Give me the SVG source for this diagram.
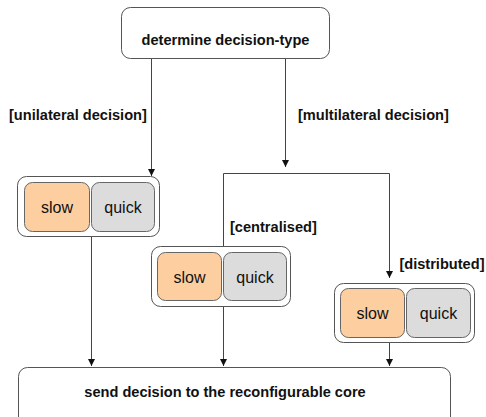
<svg xmlns="http://www.w3.org/2000/svg" width="486" height="417" viewBox="0 0 486 417">
<defs>
<marker id="arr" viewBox="0 0 8 8" refX="8" refY="4" markerWidth="7" markerHeight="7" markerUnits="userSpaceOnUse" orient="auto">
<path d="M0,0 L8,4 L0,8 z" fill="#111"/>
</marker>
<style>
.box{fill:#fff;stroke:#555;stroke-width:1}
.grp{fill:#fff;stroke:#555;stroke-width:1}
.slow{fill:#fdcfa0;stroke:#666;stroke-width:1}
.quick{fill:#dcdcdc;stroke:#666;stroke-width:1}
.t{font-family:"Liberation Sans",Arial,sans-serif;font-size:14.6px;font-weight:bold;fill:#111}
.s{font-family:"Liberation Sans",Arial,sans-serif;font-size:16px;fill:#111;text-anchor:middle}
.line{fill:none;stroke:#444;stroke-width:1}
</style>
</defs>
<rect width="486" height="417" fill="#fff"/>
<g id="connectors">
<line class="line" x1="151.5" y1="58" x2="151.5" y2="176" marker-end="url(#arr)"/>
<line class="line" x1="285.5" y1="58" x2="285.5" y2="167" marker-end="url(#arr)"/>
<polyline class="line" points="223.5,246 223.5,173.5 389.5,173.5 389.5,278" marker-end="url(#arr)"/>
<line class="line" x1="91.5" y1="237" x2="91.5" y2="366" marker-end="url(#arr)"/>
<line class="line" x1="223.5" y1="306" x2="223.5" y2="366" marker-end="url(#arr)"/>
<line class="line" x1="389.5" y1="343" x2="389.5" y2="366" marker-end="url(#arr)"/>
</g>
<g id="determine">
<rect class="box" x="121.5" y="7.5" width="208" height="51" rx="9"/>
<text class="t" x="225.5" y="45" text-anchor="middle">determine decision-type</text>
</g>
<g id="label-unilateral"><text class="t" x="9" y="120">[unilateral decision]</text></g>
<g id="label-multilateral"><text class="t" x="298" y="120">[multilateral decision]</text></g>
<g id="label-centralised"><text class="t" x="230" y="232">[centralised]</text></g>
<g id="label-distributed"><text class="t" x="484.5" y="269" text-anchor="end">[distributed]</text></g>
<g id="unilateral">
<rect class="grp" x="17.5" y="176.5" width="142" height="60" rx="9"/>
<rect class="slow" x="24.5" y="182.5" width="65" height="49" rx="8"/>
<rect class="quick" x="91.5" y="182.5" width="63" height="49" rx="8"/>
<text class="s" x="57" y="213">slow</text>
<text class="s" x="123" y="213">quick</text>
</g>
<g id="centralised">
<rect class="grp" x="151.5" y="246.5" width="139" height="60" rx="9"/>
<rect class="slow" x="157.5" y="252.5" width="64" height="48" rx="8"/>
<rect class="quick" x="223.5" y="252.5" width="63" height="48" rx="8"/>
<text class="s" x="189.5" y="283">slow</text>
<text class="s" x="255" y="283">quick</text>
</g>
<g id="distributed">
<rect class="grp" x="334.5" y="283.5" width="140" height="59" rx="9"/>
<rect class="slow" x="340.5" y="288.5" width="64" height="49" rx="8"/>
<rect class="quick" x="406.5" y="288.5" width="64" height="49" rx="8"/>
<text class="s" x="372.5" y="319">slow</text>
<text class="s" x="438.5" y="319">quick</text>
</g>
<g id="send">
<rect class="box" x="18.5" y="367.5" width="432" height="60" rx="9"/>
<text class="t" x="225" y="397" text-anchor="middle">send decision to the reconfigurable core</text>
</g>
</svg>
